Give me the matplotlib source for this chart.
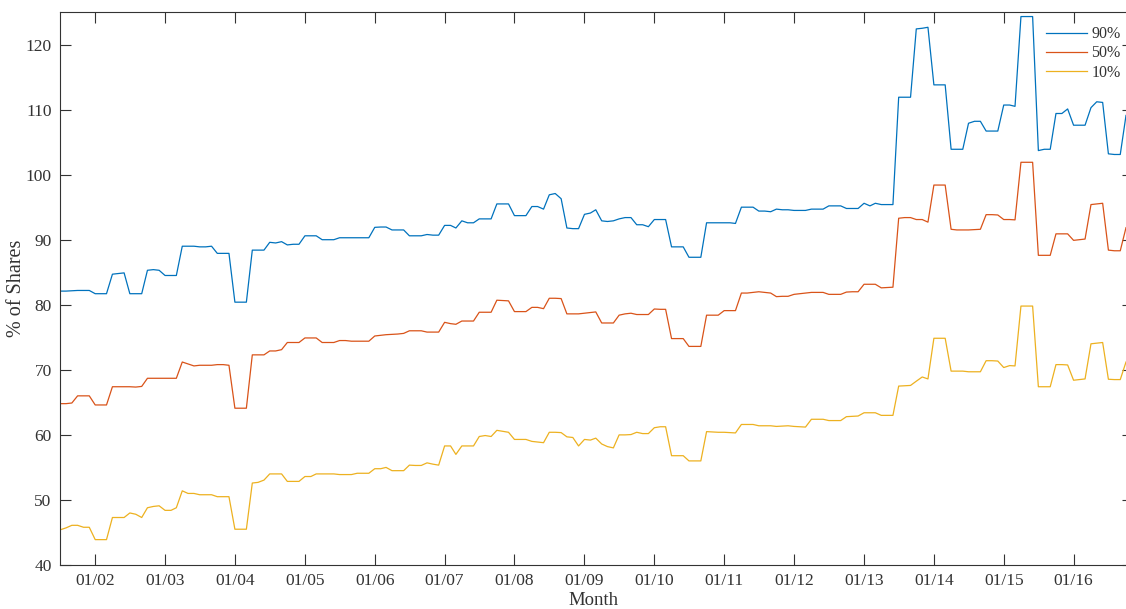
import numpy as np
import pandas as pd
import matplotlib
matplotlib.use("Agg")
import matplotlib.pyplot as plt
import matplotlib.dates as mdates

# monthly observations, Jul 2001 .. Oct 2016
months = pd.date_range("2001-07-01", "2016-10-01", freq="MS")

p90 = [82.1, 82.1, 82.15, 82.2, 82.2, 82.2, 81.7, 81.7, 81.7, 84.7, 84.8, 84.9,
       81.7, 81.7, 81.7, 85.3, 85.4, 85.3, 84.5, 84.5, 84.5, 89.0, 89.0, 89.0,
       88.9, 88.9, 89.0, 87.9, 87.9, 87.9, 80.4, 80.4, 80.4, 88.4, 88.4, 88.4,
       89.6, 89.5, 89.7, 89.2, 89.3, 89.3, 90.6, 90.6, 90.6, 90.0, 90.0, 90.0,
       90.3, 90.3, 90.3, 90.3, 90.3, 90.3, 91.9, 91.95, 91.95, 91.5, 91.5, 91.5,
       90.6, 90.6, 90.6, 90.8, 90.7, 90.7, 92.2, 92.2, 91.8, 92.9, 92.6, 92.6,
       93.2, 93.2, 93.2, 95.5, 95.5, 95.5, 93.7, 93.7, 93.7, 95.1, 95.1, 94.7,
       96.9, 97.1, 96.3, 91.8, 91.7, 91.7, 93.9, 94.1, 94.6, 92.9, 92.8, 92.9,
       93.2, 93.4, 93.4, 92.3, 92.3, 92.0, 93.1, 93.1, 93.1, 88.9, 88.9, 88.9,
       87.3, 87.3, 87.3, 92.6, 92.6, 92.6, 92.6, 92.6, 92.5, 95.0, 95.0, 95.0,
       94.4, 94.4, 94.3, 94.7, 94.6, 94.6, 94.5, 94.5, 94.5, 94.7, 94.7, 94.7,
       95.2, 95.2, 95.2, 94.8, 94.8, 94.8, 95.6, 95.2, 95.6, 95.4, 95.4, 95.4,
       111.9, 111.9, 111.9, 122.4, 122.5, 122.65, 113.8, 113.8, 113.8, 103.9, 103.9, 103.9,
       107.9, 108.2, 108.2, 106.7, 106.7, 106.7, 110.7, 110.7, 110.5, 124.3, 124.3, 124.3,
       103.7, 103.9, 103.9, 109.4, 109.4, 110.1, 107.6, 107.6, 107.6, 110.3, 111.2, 111.1,
       103.2, 103.1, 103.1, 109.1]

p50 = [64.8, 64.8, 64.9, 66.0, 66.0, 66.0, 64.6, 64.6, 64.6, 67.4, 67.4, 67.4,
       67.4, 67.35, 67.45, 68.7, 68.7, 68.7, 68.7, 68.7, 68.7, 71.2, 70.9, 70.6,
       70.7, 70.7, 70.7, 70.8, 70.8, 70.7, 64.1, 64.1, 64.1, 72.3, 72.3, 72.3,
       72.9, 72.9, 73.1, 74.2, 74.2, 74.2, 74.9, 74.9, 74.9, 74.2, 74.2, 74.2,
       74.5, 74.5, 74.4, 74.4, 74.4, 74.4, 75.2, 75.3, 75.4, 75.45, 75.5, 75.6,
       76.0, 76.0, 76.0, 75.8, 75.8, 75.8, 77.3, 77.1, 77.0, 77.5, 77.5, 77.5,
       78.85, 78.85, 78.85, 80.7, 80.65, 80.6, 78.95, 78.95, 78.95, 79.6, 79.6, 79.4,
       81.0, 81.0, 80.95, 78.6, 78.6, 78.6, 78.7, 78.8, 78.9, 77.2, 77.2, 77.2,
       78.4, 78.6, 78.7, 78.5, 78.5, 78.5, 79.35, 79.3, 79.3, 74.8, 74.8, 74.8,
       73.6, 73.6, 73.6, 78.4, 78.4, 78.4, 79.1, 79.1, 79.1, 81.8, 81.8, 81.9,
       82.0, 81.9, 81.8, 81.25, 81.3, 81.3, 81.6, 81.7, 81.8, 81.9, 81.9, 81.9,
       81.6, 81.6, 81.6, 81.95, 82.0, 82.0, 83.15, 83.15, 83.15, 82.6, 82.65, 82.7,
       93.3, 93.4, 93.4, 93.1, 93.1, 92.7, 98.4, 98.4, 98.4, 91.6, 91.5, 91.5,
       91.5, 91.55, 91.6, 93.85, 93.85, 93.8, 93.1, 93.1, 93.05, 101.9, 101.9, 101.9,
       87.6, 87.6, 87.6, 90.9, 90.9, 90.9, 89.9, 90.0, 90.1, 95.4, 95.5, 95.6,
       88.4, 88.3, 88.3, 91.85]

p10 = [45.4, 45.7, 46.1, 46.1, 45.8, 45.8, 43.9, 43.9, 43.9, 47.3, 47.3, 47.3,
       48.0, 47.8, 47.3, 48.8, 49.0, 49.1, 48.4, 48.4, 48.8, 51.4, 51.0, 51.0,
       50.8, 50.8, 50.8, 50.5, 50.5, 50.5, 45.5, 45.5, 45.5, 52.6, 52.7, 53.05,
       54.0, 54.0, 54.0, 52.85, 52.85, 52.85, 53.6, 53.6, 54.0, 54.0, 54.0, 54.0,
       53.9, 53.9, 53.9, 54.1, 54.1, 54.1, 54.8, 54.8, 55.0, 54.5, 54.5, 54.5,
       55.35, 55.3, 55.3, 55.7, 55.5, 55.35, 58.3, 58.3, 57.0, 58.3, 58.3, 58.3,
       59.75, 59.9, 59.75, 60.7, 60.55, 60.4, 59.3, 59.3, 59.3, 59.0, 58.9, 58.8,
       60.4, 60.4, 60.35, 59.7, 59.6, 58.3, 59.3, 59.2, 59.5, 58.6, 58.2, 58.0,
       60.0, 60.0, 60.05, 60.4, 60.2, 60.2, 61.1, 61.25, 61.25, 56.8, 56.8, 56.8,
       56.0, 56.0, 56.0, 60.5, 60.45, 60.4, 60.4, 60.35, 60.3, 61.6, 61.6, 61.6,
       61.4, 61.4, 61.4, 61.3, 61.35, 61.4, 61.3, 61.25, 61.2, 62.4, 62.4, 62.4,
       62.2, 62.2, 62.2, 62.8, 62.85, 62.9, 63.4, 63.4, 63.4, 63.0, 63.0, 63.0,
       67.5, 67.55, 67.6, 68.25, 68.9, 68.6, 74.85, 74.85, 74.85, 69.8, 69.8, 69.8,
       69.7, 69.7, 69.7, 71.4, 71.4, 71.35, 70.35, 70.65, 70.6, 79.8, 79.8, 79.8,
       67.4, 67.4, 67.4, 70.8, 70.8, 70.75, 68.4, 68.5, 68.6, 74.0, 74.1, 74.2,
       68.55, 68.5, 68.5, 71.2]

labels = ["90%", "50%", "10%"]
colors = ["#0072BD", "#D95319", "#EDB120"]

plt.rcParams["font.family"] = ["Liberation Serif", "DejaVu Serif"]
ink = "#333333"

fig = plt.figure(figsize=(11.26, 6.09), dpi=100)
ax = fig.add_axes([60 / 1126, 1 - 565 / 609, 1066 / 1126, 553 / 609])

for series, lab, c in zip([p90, p50, p10], labels, colors):
    ax.plot(months, series, color=c, lw=0.9, label=lab)

ax.set_xlim(months[0], months[-1])
ax.set_ylim(40, 125)
ax.set_yticks(np.arange(40, 121, 10))
ax.xaxis.set_major_locator(mdates.YearLocator(1, month=1, day=1))
ax.xaxis.set_major_formatter(mdates.DateFormatter("%m/%y"))

for s in ax.spines.values():
    s.set_color(ink)
    s.set_linewidth(0.8)
ax.spines["right"].set_visible(False)
ax.tick_params(direction="in", length=8, width=0.8, color=ink,
               labelsize=12.5, top=True, right=True, labelcolor=ink, pad=6)
# right-hand ticks are only stubs at the image edge
for tk in ax.yaxis.get_major_ticks():
    tk.tick2line.set_markersize(3)

ax.set_xlabel("Month", fontsize=13.5, color=ink, labelpad=2)
ax.set_ylabel("% of Shares", fontsize=14.5, color=ink, labelpad=0)

leg = ax.legend(loc="upper right", bbox_to_anchor=(0.998, 0.98),
                frameon=False, fontsize=11.5,
                handlelength=2.6, handletextpad=0.25, labelspacing=0.2,
                borderaxespad=0, borderpad=0.2)
for t in leg.get_texts():
    t.set_color(ink)

fig.savefig("out.png", dpi=100)
